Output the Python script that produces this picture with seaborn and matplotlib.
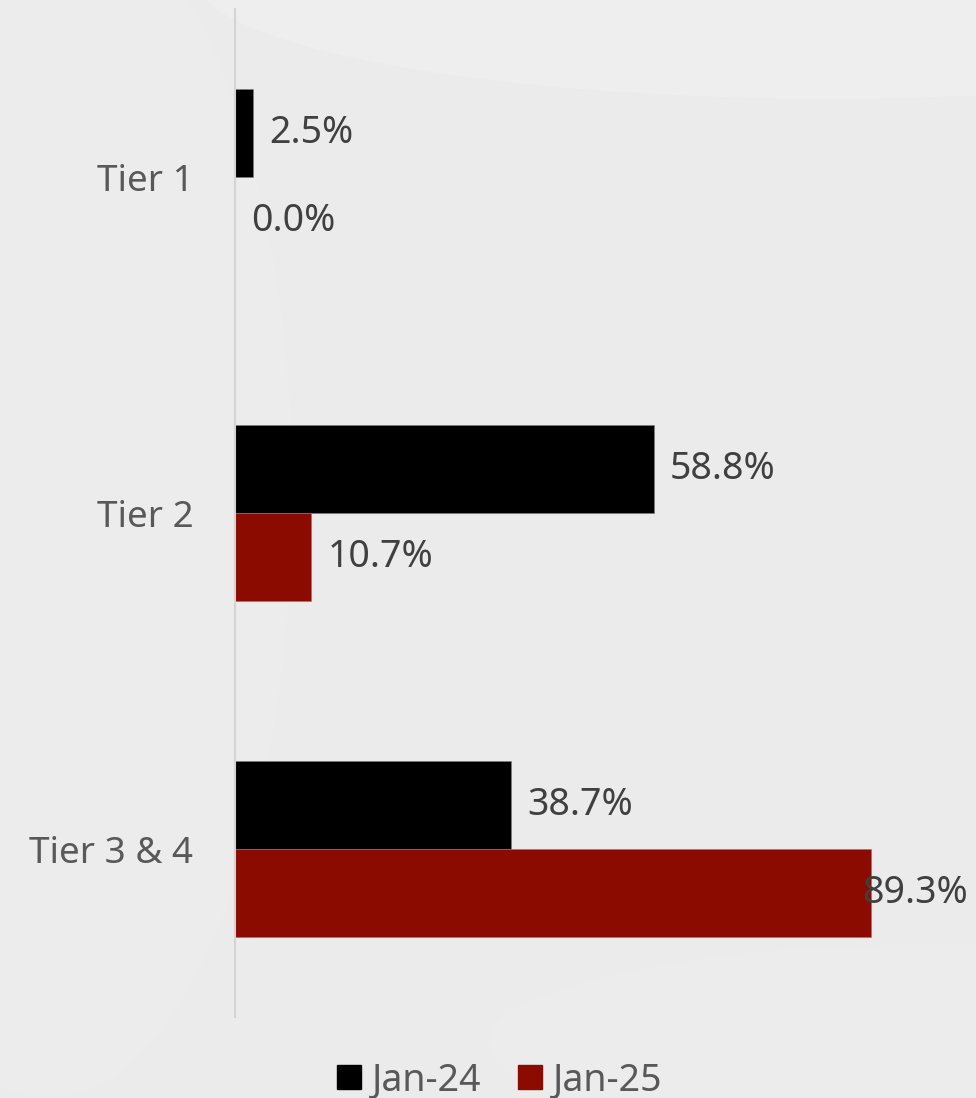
import numpy as np
import pandas as pd
import matplotlib.pyplot as plt
import seaborn as sns
from matplotlib.lines import Line2D
from matplotlib.patches import Ellipse

# data
tiers = ['Tier 1', 'Tier 2', 'Tier 3 & 4']
periods = ['Jan-24', 'Jan-25']
jan24 = [2.5, 58.8, 38.7]
jan25 = [0.0, 10.7, 89.3]
colors = ['#000000', '#8C0B00']

df = pd.DataFrame({
    'tier': tiers * 2,
    'period': [periods[0]] * 3 + [periods[1]] * 3,
    'value': jan24 + jan25,
})

sns.set_theme(style='white')
plt.rcParams['font.family'] = ['Noto Sans', 'DejaVu Sans']

bg = '#EBEBEB'
fig = plt.figure(figsize=(9.76, 10.98), dpi=100, facecolor=bg)

# faint background shapes
bgax = fig.add_axes([0, 0, 1, 1], zorder=-5)
bgax.set_xlim(0, 1)
bgax.set_ylim(0, 1)
bgax.axis('off')
bgax.add_patch(Ellipse((0.85, 1.02), 1.3, 0.22, color='#EEEEEE', lw=0))
bgax.add_patch(Ellipse((0.05, 0.55), 0.5, 1.1, color='#ECECEC', lw=0))
bgax.add_patch(Ellipse((0.95, 0.05), 0.9, 0.18, color='#ECECEC', lw=0))

ax = fig.add_axes([235 / 976, 81 / 1098, 712 / 976, 1008 / 1098])
ax.set_facecolor('none')

sns.barplot(data=df, y='tier', x='value', hue='period', orient='h',
            palette=colors, width=0.524, gap=0, saturation=1,
            edgecolor='#7F7F7F', linewidth=0.4, ax=ax, legend=False)

ax.set_xlim(0, 100)
ax.set_ylim(2.5, -0.5)
ax.set_xlabel('')
ax.set_ylabel('')
ax.set_xticks([])
ax.tick_params(axis='y', length=0, pad=30, labelsize=26.5, labelcolor='#595959')
for s in ['top', 'right', 'bottom']:
    ax.spines[s].set_visible(False)
ax.spines['left'].set_color('#D4D4D4')
ax.spines['left'].set_linewidth(1.5)

# value labels
for patch in ax.patches:
    w = patch.get_width()
    yc = patch.get_y() + patch.get_height() / 2
    x = min(w + 2.3, 88.1)
    ax.text(x, yc, f'{w:.1f}%', va='center', ha='left', fontsize=27,
            color='#404040')

handles = [Line2D([0], [0], marker='s', color='none', markerfacecolor=c,
                  markeredgecolor=c, markersize=17) for c in colors]
fig.legend(handles, periods, loc='center', bbox_to_anchor=(500 / 976, 1 - 1080 / 1098),
           ncol=2, frameon=False, fontsize=27, handlelength=0.6,
           handletextpad=0.3, columnspacing=1.0, labelcolor='#595959')

fig.savefig('out.png', dpi=100, facecolor=bg)
